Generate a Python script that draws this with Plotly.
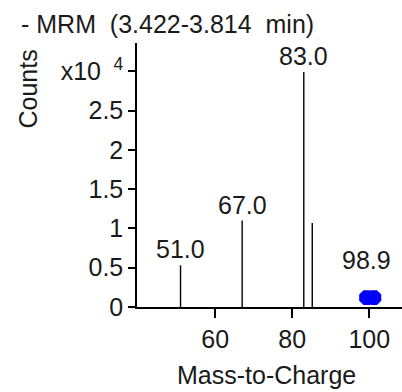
import plotly.graph_objects as go

# ---- data ----
peak_mz = [51.0, 67.0, 83.0, 85.2]
peak_counts = [5300, 11000, 29900, 10700]
peak_labels = ["51.0", "67.0", "83.0", ""]

precursor_mz = [99.3, 101.2]
precursor_counts = [1200, 1200]
precursor_label = "98.9"
precursor_label_mz = 99.25

y_tickvals = [0, 5000, 10000, 15000, 20000, 25000, 30000]
y_ticktext = ["0", "0.5", "1", "1.5", "2", "2.5", "x10\u2002<sup>4</sup>"]
x_tickvals = [60, 80, 100]

title_text = "- MRM\u00a0 (3.422-3.814\u00a0 min)"
x_title = "Mass-to-Charge"
y_title = "Counts"

W, H = 402, 392
L, R, T, B = 137, 0, 43, 85
PW, PH = W - L - R, H - T - B


def px_x(p):
    return (p - L) / PW


def px_y(p):
    return (H - B - p) / PH


FONT = "Liberation Sans, Arial, sans-serif"
TXT = "#1a1a1a"
FS = 25

xs, ys = [], []
for m, c in zip(peak_mz, peak_counts):
    xs += [m, m, None]
    ys += [0, c, None]

fig = go.Figure()
fig.add_trace(go.Scatter(x=xs, y=ys, mode="lines",
                         line=dict(color="black", width=1.4),
                         hoverinfo="skip", showlegend=False))
fig.add_trace(go.Scatter(x=precursor_mz, y=precursor_counts, mode="markers",
                         marker=dict(symbol="octagon", size=16, color="#0000ff",
                                     line=dict(width=0)),
                         showlegend=False))

annotations = []
for m, c, t in zip(peak_mz, peak_counts, peak_labels):
    if t:
        annotations.append(dict(x=m, y=c, xref="x", yref="y", text=t,
                                showarrow=False, yanchor="bottom", yshift=0,
                                font=dict(family=FONT, size=FS, color=TXT)))
annotations.append(dict(x=precursor_label_mz, y=max(precursor_counts), xref="x", yref="y",
                        text=precursor_label, showarrow=False, yanchor="bottom",
                        yshift=22, font=dict(family=FONT, size=FS, color=TXT)))
annotations.append(dict(x=px_x(19), y=px_y(24), xref="paper", yref="paper",
                        text=title_text, showarrow=False, xanchor="left",
                        yanchor="middle", font=dict(family=FONT, size=FS, color=TXT)))
annotations.append(dict(x=px_x(27.5), y=px_y(89), xref="paper", yref="paper",
                        text=y_title, showarrow=False, textangle=-90,
                        xanchor="center", yanchor="middle",
                        font=dict(family=FONT, size=FS, color=TXT)))
annotations.append(dict(x=px_x(266), y=px_y(375), xref="paper", yref="paper",
                        text=x_title, showarrow=False, xanchor="center",
                        yanchor="middle", font=dict(family=FONT, size=FS, color=TXT)))

fig.update_layout(
    width=W, height=H,
    margin=dict(l=L, r=R, t=T, b=B, pad=0),
    paper_bgcolor="white", plot_bgcolor="white",
    annotations=annotations,
    xaxis=dict(range=[39.7, 108.5], tickvals=x_tickvals, showgrid=False,
               zeroline=False, showline=True, linecolor="black", linewidth=1.5,
               ticks="outside", ticklen=9, tickwidth=1.5, tickcolor="black",
               tickfont=dict(family=FONT, size=FS, color=TXT)),
    yaxis=dict(range=[0, 33600], tickvals=y_tickvals, ticktext=y_ticktext,
               showgrid=False, zeroline=False, showline=True, linecolor="black",
               linewidth=1.5, ticks="outside", ticklen=7, tickwidth=1.5,
               tickcolor="black", tickfont=dict(family=FONT, size=FS, color=TXT)),
)

fig.write_html("out.html")
